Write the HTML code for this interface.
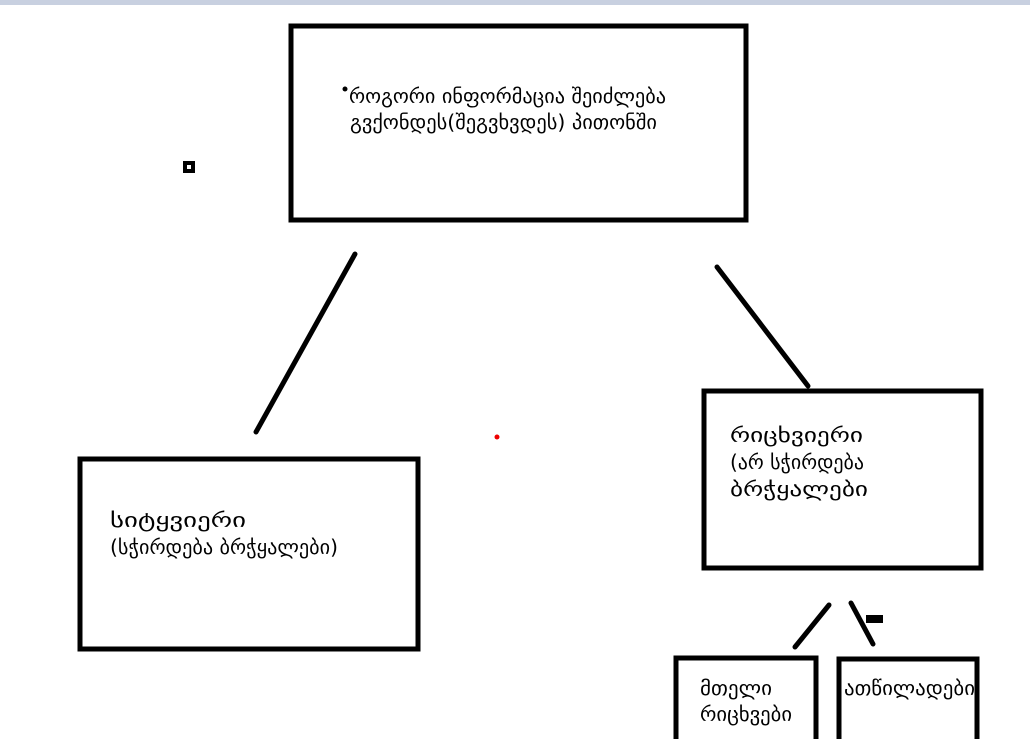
<!DOCTYPE html>
<html><head><meta charset="utf-8"><style>
html,body{margin:0;padding:0;background:#fff;width:1030px;height:739px;overflow:hidden}
text{font-family:"DejaVu Sans","Liberation Sans",sans-serif;font-size:20px;fill:#000}
</style></head><body>
<svg width="1030" height="739" viewBox="0 0 1030 739" xmlns="http://www.w3.org/2000/svg">
<rect x="0" y="0" width="1030" height="5" fill="#c8d0e0"/>
<g fill="none" stroke="#000" stroke-width="5">
<rect x="291" y="26" width="455" height="194"/>
<rect x="80" y="459" width="338" height="190"/>
<rect x="704" y="391" width="277" height="177"/>
<rect x="676" y="658" width="140" height="90"/>
<rect x="839" y="659" width="138" height="90"/>
</g>
<g stroke="#000" stroke-width="5" stroke-linecap="round">
<line x1="355" y1="254" x2="256" y2="432"/>
<line x1="717" y1="267" x2="808" y2="386"/>
<line x1="829" y1="605" x2="795" y2="647"/>
<line x1="851" y1="603" x2="873" y2="644"/>
</g>
<rect x="866" y="615" width="17" height="8" fill="#000"/>
<rect x="183" y="161" width="12" height="12" fill="#000"/>
<rect x="187" y="165" width="4" height="4" fill="#fff"/>
<circle cx="497" cy="437" r="2.5" fill="#e00"/>
<circle cx="345" cy="89" r="2.5" fill="#000"/>
<text x="349" y="103" textLength="317" lengthAdjust="spacingAndGlyphs">როგორი ინფორმაცია შეიძლება</text>
<text x="350" y="129" textLength="307" lengthAdjust="spacingAndGlyphs">გვქონდეს(შეგვხვდეს) პითონში</text>
<text x="110" y="527" textLength="136" lengthAdjust="spacingAndGlyphs">სიტყვიერი</text>
<text x="110" y="554" textLength="228" lengthAdjust="spacingAndGlyphs">(სჭირდება ბრჭყალები)</text>
<text x="730" y="442" textLength="133" lengthAdjust="spacingAndGlyphs">რიცხვიერი</text>
<text x="730" y="469" textLength="134" lengthAdjust="spacingAndGlyphs">(არ სჭირდება</text>
<text x="730" y="496" textLength="138" lengthAdjust="spacingAndGlyphs">ბრჭყალები</text>
<text x="700" y="695" textLength="72" lengthAdjust="spacingAndGlyphs">მთელი</text>
<text x="700" y="721" textLength="92" lengthAdjust="spacingAndGlyphs">რიცხვები</text>
<text x="844" y="695" textLength="131" lengthAdjust="spacingAndGlyphs">ათწილადები</text>
</svg>
</body></html>
